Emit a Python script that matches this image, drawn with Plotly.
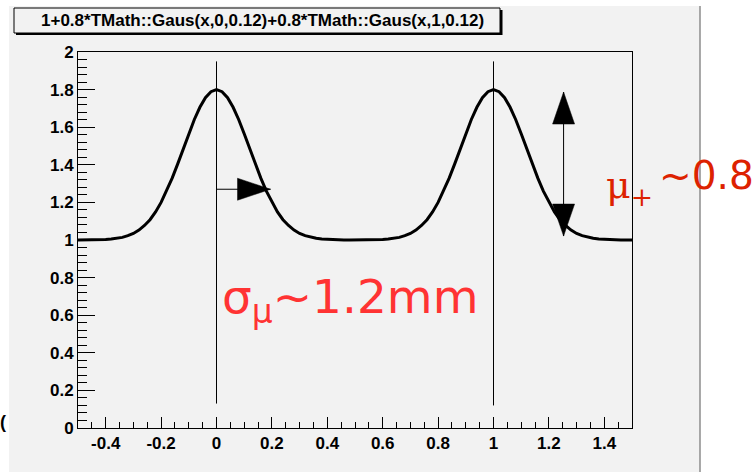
import plotly.graph_objects as go

# ---------------- data ----------------
x_values = [
    -0.50, -0.48, -0.46, -0.44, -0.42, -0.40, -0.38, -0.36, -0.34, -0.32,
    -0.30, -0.28, -0.26, -0.24, -0.22, -0.20, -0.18, -0.16, -0.14, -0.12,
    -0.10, -0.08, -0.06, -0.04, -0.02, 0.00, 0.02, 0.04, 0.06, 0.08,
    0.10, 0.12, 0.14, 0.16, 0.18, 0.20, 0.22, 0.24, 0.26, 0.28,
    0.30, 0.32, 0.34, 0.36, 0.38, 0.40, 0.42, 0.44, 0.46, 0.48,
    0.50, 0.52, 0.54, 0.56, 0.58, 0.60, 0.62, 0.64, 0.66, 0.68,
    0.70, 0.72, 0.74, 0.76, 0.78, 0.80, 0.82, 0.84, 0.86, 0.88,
    0.90, 0.92, 0.94, 0.96, 0.98, 1.00, 1.02, 1.04, 1.06, 1.08,
    1.10, 1.12, 1.14, 1.16, 1.18, 1.20, 1.22, 1.24, 1.26, 1.28,
    1.30, 1.32, 1.34, 1.36, 1.38, 1.40, 1.42, 1.44, 1.46, 1.48,
    1.50,
]
y_values = [
    1.000, 1.000, 1.000, 1.001, 1.002, 1.003, 1.005, 1.009, 1.014, 1.023,
    1.035, 1.053, 1.077, 1.108, 1.149, 1.200, 1.260, 1.329, 1.405, 1.485,
    1.565, 1.641, 1.706, 1.757, 1.789, 1.800, 1.789, 1.757, 1.706, 1.641,
    1.565, 1.485, 1.405, 1.329, 1.260, 1.200, 1.149, 1.108, 1.077, 1.053,
    1.035, 1.023, 1.014, 1.009, 1.005, 1.003, 1.002, 1.001, 1.000, 1.000,
    1.000, 1.000, 1.000, 1.001, 1.002, 1.003, 1.005, 1.009, 1.014, 1.023,
    1.035, 1.053, 1.077, 1.108, 1.149, 1.200, 1.260, 1.329, 1.405, 1.485,
    1.565, 1.641, 1.706, 1.757, 1.789, 1.800, 1.789, 1.757, 1.706, 1.641,
    1.565, 1.485, 1.405, 1.329, 1.260, 1.200, 1.149, 1.108, 1.077, 1.053,
    1.035, 1.023, 1.014, 1.009, 1.005, 1.003, 1.002, 1.001, 1.000, 1.000,
    1.000,
]
peak_centers = [0.0, 1.0]
marker_line_bottom = [0.13, 0.12]
marker_line_top = [1.95, 1.95]

sigma_arrow_from = (0.0, 1.27)
sigma_arrow_to = (0.195, 1.27)
mu_arrow_x = 1.253
mu_arrow_y = [1.021, 1.787]

x_tick_vals = [-0.4, -0.2, 0, 0.2, 0.4, 0.6, 0.8, 1, 1.2, 1.4]
x_tick_text = ["-0.4", "-0.2", "0", "0.2", "0.4", "0.6", "0.8", "1", "1.2", "1.4"]
y_tick_vals = [0, 0.2, 0.4, 0.6, 0.8, 1, 1.2, 1.4, 1.6, 1.8, 2]
y_tick_text = ["0", "0.2", "0.4", "0.6", "0.8", "1", "1.2", "1.4", "1.6", "1.8", "2"]

title_text = "1+0.8*TMath::Gaus(x,0,0.12)+0.8*TMath::Gaus(x,1,0.12)"
sigma_text = "σ<sub>μ</sub>~1.2mm"
mu_text = "μ<sub>+</sub>"
mu_value_text = "~0.8"

# ---------------- layout helpers ----------------
W, H = 753, 472
L, R, T, B = 78, 632, 52, 428


def px(x):
    return (x - L) / (R - L)


def py(y):
    return (B - y) / (B - T)


CANVAS = "#f2f2f2"
FONT = "Liberation Sans"

fig = go.Figure()

fig.add_trace(go.Scatter(x=x_values, y=y_values, mode="lines",
                         line=dict(color="black", width=3), hoverinfo="skip"))
for c, y0, y1 in zip(peak_centers, marker_line_bottom, marker_line_top):
    fig.add_trace(go.Scatter(x=[c, c], y=[y0, y1], mode="lines",
                             line=dict(color="black", width=1), hoverinfo="skip"))

# arrow shafts
fig.add_trace(go.Scatter(x=[sigma_arrow_from[0], sigma_arrow_to[0]],
                         y=[sigma_arrow_from[1], sigma_arrow_to[1]], mode="lines",
                         line=dict(color="black", width=1), hoverinfo="skip"))
fig.add_trace(go.Scatter(x=[mu_arrow_x, mu_arrow_x], y=mu_arrow_y, mode="lines",
                         line=dict(color="black", width=1), hoverinfo="skip"))

shapes = []
# canvas
shapes.append(dict(type="rect", xref="paper", yref="paper", x0=px(9), x1=px(700),
                   y0=py(472), y1=py(6), fillcolor=CANVAS, line=dict(width=0), layer="below"))
shapes.append(dict(type="line", xref="paper", yref="paper", x0=px(700), x1=px(700),
                   y0=py(472), y1=py(6), line=dict(color="#8c8c8c", width=1.5)))
# title box shadow + box
shapes.append(dict(type="rect", xref="paper", yref="paper", x0=px(16), x1=px(502.5),
                   y0=py(35), y1=py(10), fillcolor="black", line=dict(width=0)))
shapes.append(dict(type="rect", xref="paper", yref="paper", x0=px(14), x1=px(500),
                   y0=py(33), y1=py(8), fillcolor=CANVAS, line=dict(color="black", width=1)))


def tri(xa, ya, path):
    return dict(type="path", xref="x", yref="y", xsizemode="pixel", ysizemode="pixel",
                xanchor=xa, yanchor=ya, path=path, fillcolor="black",
                line=dict(color="black", width=0.5))


shapes.append(tri(sigma_arrow_to[0], sigma_arrow_to[1], "M0,0 L-33,11 L-33,-11 Z"))
shapes.append(tri(mu_arrow_x, mu_arrow_y[1], "M0,0 L-11,-32 L11,-32 Z"))
shapes.append(tri(mu_arrow_x, mu_arrow_y[0], "M0,0 L-11,32 L11,32 Z"))

annotations = [
    dict(xref="paper", yref="paper", x=px(262), y=py(20.5), text=title_text,
         showarrow=False, xanchor="center", yanchor="middle",
         font=dict(family=FONT, size=17, color="black", weight="bold")),
    dict(xref="paper", yref="paper", x=px(-2), y=py(422), text="(",
         showarrow=False, xanchor="left", yanchor="middle",
         font=dict(family=FONT, size=18, color="black", weight="bold")),
    dict(xref="paper", yref="paper", x=px(220), y=py(300), text=sigma_text,
         showarrow=False, xanchor="left", yanchor="middle",
         font=dict(family="DejaVu Sans", size=47, color="#ff3333")),
    dict(xref="paper", yref="paper", x=px(604), y=py(187), text=mu_text,
         showarrow=False, xanchor="left", yanchor="middle",
         font=dict(family="DejaVu Serif", size=38, color="#dd2200")),
    dict(xref="paper", yref="paper", x=px(657), y=py(175), text=mu_value_text,
         showarrow=False, xanchor="left", yanchor="middle",
         font=dict(family="DejaVu Sans", size=39, color="#dd2200")),
]

tickfont = dict(family=FONT, size=17, color="black", weight="bold")

fig.update_layout(
    width=W, height=H, autosize=False,
    margin=dict(l=L, r=W - R, t=T, b=H - B, pad=0),
    paper_bgcolor="white", plot_bgcolor=CANVAS,
    showlegend=False,
    shapes=shapes, annotations=annotations,
    xaxis=dict(range=[-0.5, 1.5], showline=True, linecolor="black", linewidth=1,
               mirror=True, ticks="inside", ticklen=11, tickwidth=1, tickcolor="black",
               tickmode="array", tickvals=x_tick_vals, ticktext=x_tick_text,
               tickfont=tickfont, showgrid=False, zeroline=False,
               minor=dict(tickmode="linear", tick0=0, dtick=0.05, ticklen=6,
                          ticks="inside", tickcolor="black", tickwidth=1, showgrid=False)),
    yaxis=dict(range=[0, 2], showline=True, linecolor="black", linewidth=1,
               mirror=True, ticks="inside", ticklen=17, tickwidth=1, tickcolor="black",
               tickmode="array", tickvals=y_tick_vals, ticktext=y_tick_text,
               tickfont=tickfont, showgrid=False, zeroline=False,
               minor=dict(tickmode="linear", tick0=0, dtick=0.04, ticklen=9,
                          ticks="inside", tickcolor="black", tickwidth=1, showgrid=False)),
)

fig.write_html("out.html")
